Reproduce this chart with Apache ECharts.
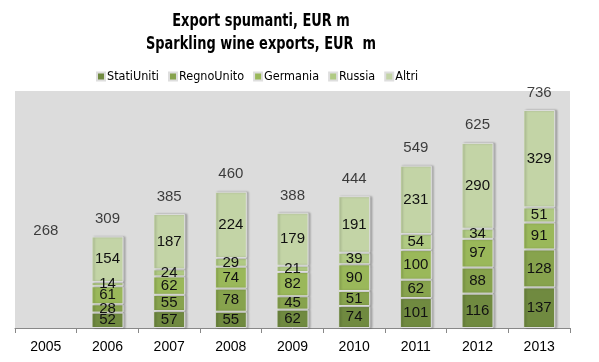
<!DOCTYPE html>
<html><head><meta charset="utf-8">
<script src="https://cdn.jsdelivr.net/npm/echarts@6/dist/echarts.min.js"></script>
<style>html,body{margin:0;padding:0;background:#fff}#c{width:599px;height:362px}</style>
</head><body><div id="c"></div>
<script>
var categories = ['2005','2006','2007','2008','2009','2010','2011','2012','2013'];
var statiUniti = [null,52,57,55,62,74,101,116,137];
var regnoUnito = [null,28,55,78,45,51,62,88,128];
var germania   = [null,61,62,74,82,90,100,97,91];
var russia     = [null,14,24,29,21,39,54,34,51];
var altri      = [null,154,187,224,179,191,231,290,329];
var totals     = [268,309,385,460,388,444,549,625,736];
var titleLines = ['Export spumanti, EUR m', 'Sparkling wine exports, EUR  m'];

var names = ['StatiUniti','RegnoUnito','Germania','Russia','Altri'];
var colors = ['#708a40','#87a34d','#9ab85a','#b0ca83','#c3d4a6'];
var dataSets = [statiUniti, regnoUnito, germania, russia, altri];
var narrow = "'DejaVu Sans Condensed', 'Liberation Sans', sans-serif";

var series = dataSets.map(function(d, i){
  return {
    name: names[i], type: 'bar', stack: 'tot', data: d, barWidth: 32,
    itemStyle: {color: colors[i], borderColor: '#dedede', borderWidth: 1,
      shadowColor: 'rgba(0,0,0,0.22)', shadowOffsetX: 2, shadowOffsetY: 0, shadowBlur: 2},
    label: {show: true, position: 'inside', color: '#111', fontSize: 15,
      fontFamily: 'Liberation Sans'},
    emphasis: {disabled: true}
  };
});
series.push({
  name: 'Totale', type: 'scatter', data: totals, symbolSize: 0,
  label: {show: true, position: 'top', distance: 10, color: '#111', fontSize: 15,
    fontFamily: 'Liberation Sans'},
  z: 5
});

var chart = echarts.init(document.getElementById('c'));
chart.setOption({
  animation: false,
  graphic: titleLines.map(function(t, i){
    return {
      type: 'text', x: 261, y: 21 + i * 23, scaleX: 0.8,
      style: {text: t, x: 0, y: 0, align: 'center', verticalAlign: 'middle',
        font: 'bold 18px ' + narrow, fill: '#000'}
    };
  }),
  legend: {
    data: names, top: 70, left: 96, padding: 0, itemWidth: 8, itemHeight: 8, itemGap: 9,
    icon: 'rect',
    textStyle: {fontFamily: narrow, fontSize: 12.5, color: '#000', padding: [0,0,0,-3]}
  },
  grid: {left: 15, right: 29, top: 91, bottom: 34, show: true,
    backgroundColor: '#dcdcdc', borderWidth: 0},
  xAxis: {
    type: 'category', data: categories,
    axisLine: {lineStyle: {color: '#888'}},
    axisTick: {show: true, length: 5, lineStyle: {color: '#888'}},
    axisLabel: {color: '#000', fontSize: 14, fontFamily: 'Liberation Sans', margin: 12}
  },
  yAxis: {
    type: 'value', min: 0, max: 800, show: false, splitLine: {show: false}
  },
  series: series
});
</script></body></html>
